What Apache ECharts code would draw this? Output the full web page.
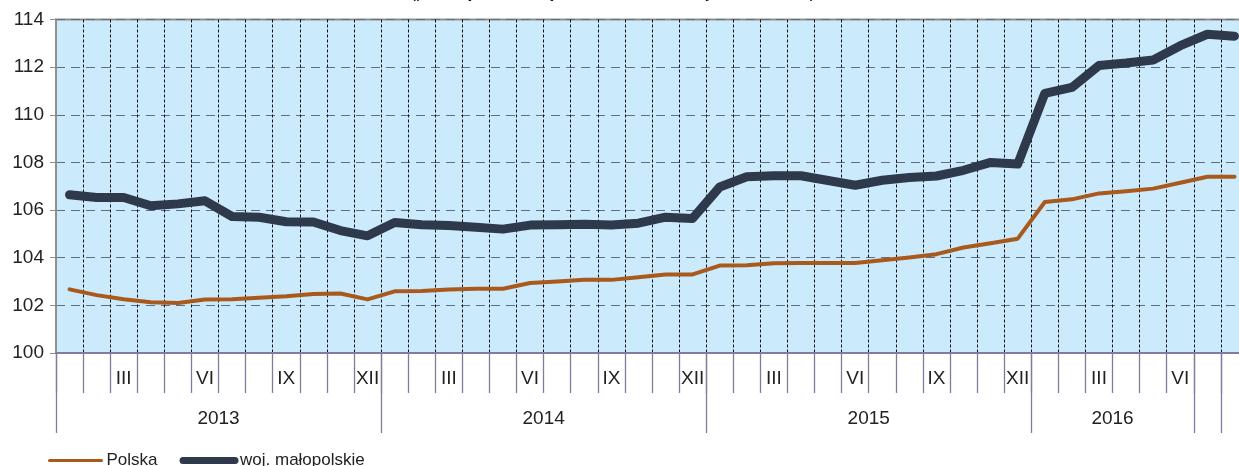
<!DOCTYPE html>
<html>
<head>
<meta charset="utf-8">
<script src="https://cdn.jsdelivr.net/npm/echarts@6/dist/echarts.min.js"></script>
<style>
html,body{margin:0;padding:0;background:#fff;}
#chart{width:1239px;height:466px;}
</style>
</head>
<body>
<div id="chart"></div>
<script>
// ---- data ----
const categories = [
  '2013-01','2013-02','2013-03','2013-04','2013-05','2013-06','2013-07','2013-08','2013-09','2013-10','2013-11','2013-12',
  '2014-01','2014-02','2014-03','2014-04','2014-05','2014-06','2014-07','2014-08','2014-09','2014-10','2014-11','2014-12',
  '2015-01','2015-02','2015-03','2015-04','2015-05','2015-06','2015-07','2015-08','2015-09','2015-10','2015-11','2015-12',
  '2016-01','2016-02','2016-03','2016-04','2016-05','2016-06','2016-07','2016-08'
];
const monthLabels = [
  '','','III','','','VI','','','IX','','','XII',
  '','','III','','','VI','','','IX','','','XII',
  '','','III','','','VI','','','IX','','','XII',
  '','','III','','','VI','',''
];
const yearLabels = ['2013','2014','2015','2016','',''];
const yearGroupMonths = [12,12,12,6,1,1];
const polska = [
  102.67,102.43,102.26,102.13,102.10,102.25,102.26,102.32,102.38,102.48,102.50,102.25,
  102.59,102.60,102.67,102.70,102.70,102.94,103.00,103.07,103.07,103.18,103.30,103.30,
  103.67,103.68,103.77,103.78,103.78,103.78,103.89,104.01,104.15,104.43,104.61,104.80,
  106.34,106.45,106.70,106.79,106.90,107.15,107.40,107.40
];
const malopolskie = [
  106.64,106.53,106.53,106.18,106.26,106.39,105.73,105.70,105.51,105.50,105.14,104.92,
  105.48,105.38,105.35,105.28,105.20,105.37,105.38,105.40,105.37,105.45,105.70,105.65,
  106.97,107.40,107.44,107.44,107.24,107.04,107.25,107.37,107.43,107.67,108.00,107.93,
  110.90,111.15,112.07,112.17,112.30,112.90,113.38,113.30
];
const yTicks = {min:100, max:114, interval:2};
const titleText = '(przeciętne miesięczne, okres bazowy 2010 = 100)';

// group boundaries and centres for the year row
const yearBounds = [0];
yearGroupMonths.forEach(m => yearBounds.push(yearBounds[yearBounds.length-1] + m));
const yearCenters = yearGroupMonths.map((m,i) => yearBounds[i] + m/2);

const chart = echarts.init(document.getElementById('chart'), null, {renderer:'canvas'});
const axisCol = '#7e7e9c';
const fontFam = '"Liberation Sans", Arial, sans-serif';

chart.setOption({
  animation:false,
  title:{
    text:titleText, left:405, top:-22,
    textStyle:{fontFamily:fontFam, fontSize:18, fontWeight:'normal', color:'#111'}
  },
  legend:{
    left:48, top:452, padding:0, itemWidth:52, itemHeight:14, itemGap:22,
    textStyle:{fontFamily:fontFam, fontSize:17, color:'#222'},
    data:[
      {name:'Polska', itemStyle:{opacity:0}, lineStyle:{width:3, color:'#a9591c'}},
      {name:'woj. małopolskie', itemStyle:{opacity:0}, lineStyle:{width:7, color:'#2e3a4c', cap:'round'}}
    ]
  },
  grid:{
    left:56, top:19.5, right:-9, bottom:113, outerBoundsMode:'none',
    show:true, backgroundColor:'#cbeafb', borderColor:'#8f8f8f', borderWidth:2
  },
  xAxis:[{
    type:'category', data:categories, boundaryGap:true,
    axisLine:{show:true, lineStyle:{color:axisCol, width:2}},
    axisTick:{show:true, interval:0, length:40, lineStyle:{color:axisCol, width:1.3}},
    axisLabel:{interval:0, margin:16, fontFamily:fontFam, fontSize:19, color:'#222',
      formatter:(v, i) => monthLabels[i]},
    splitLine:{show:true, interval:0, lineStyle:{color:'#111', width:1, type:[3,2]}}
  },{
    type:'value', min:0, max:categories.length, position:'bottom',
    axisLine:{show:false},
    axisTick:{show:true, length:80, customValues:yearBounds, lineStyle:{color:axisCol, width:1.3}},
    axisLabel:{show:true, margin:56, customValues:yearCenters, fontFamily:fontFam, fontSize:19, color:'#222',
      formatter:(v) => { const i = yearCenters.indexOf(v); return i >= 0 ? yearLabels[i] : ''; }},
    splitLine:{show:false}
  }],
  yAxis:{
    type:'value', min:yTicks.min, max:yTicks.max, interval:yTicks.interval,
    axisLine:{show:true, lineStyle:{color:'#8f8f8f', width:2}},
    axisTick:{show:true, length:6, lineStyle:{color:'#8f8f8f'}},
    axisLabel:{margin:12, fontFamily:fontFam, fontSize:19, color:'#222'},
    splitLine:{show:true, lineStyle:{color:'#5e6e84', width:1.2, type:[9,6]}}
  },
  series:[{
    name:'Polska', type:'line', data:polska, xAxisIndex:0,
    symbol:'none', lineStyle:{color:'#a9591c', width:4, cap:'round', join:'round'},
    itemStyle:{color:'#a9591c'}, z:3
  },{
    name:'woj. małopolskie', type:'line', data:malopolskie, xAxisIndex:0,
    symbol:'none', lineStyle:{color:'#2e3a4c', width:9, cap:'round', join:'round'},
    itemStyle:{color:'#2e3a4c'}, z:4
  }]
});
</script>
</body>
</html>
